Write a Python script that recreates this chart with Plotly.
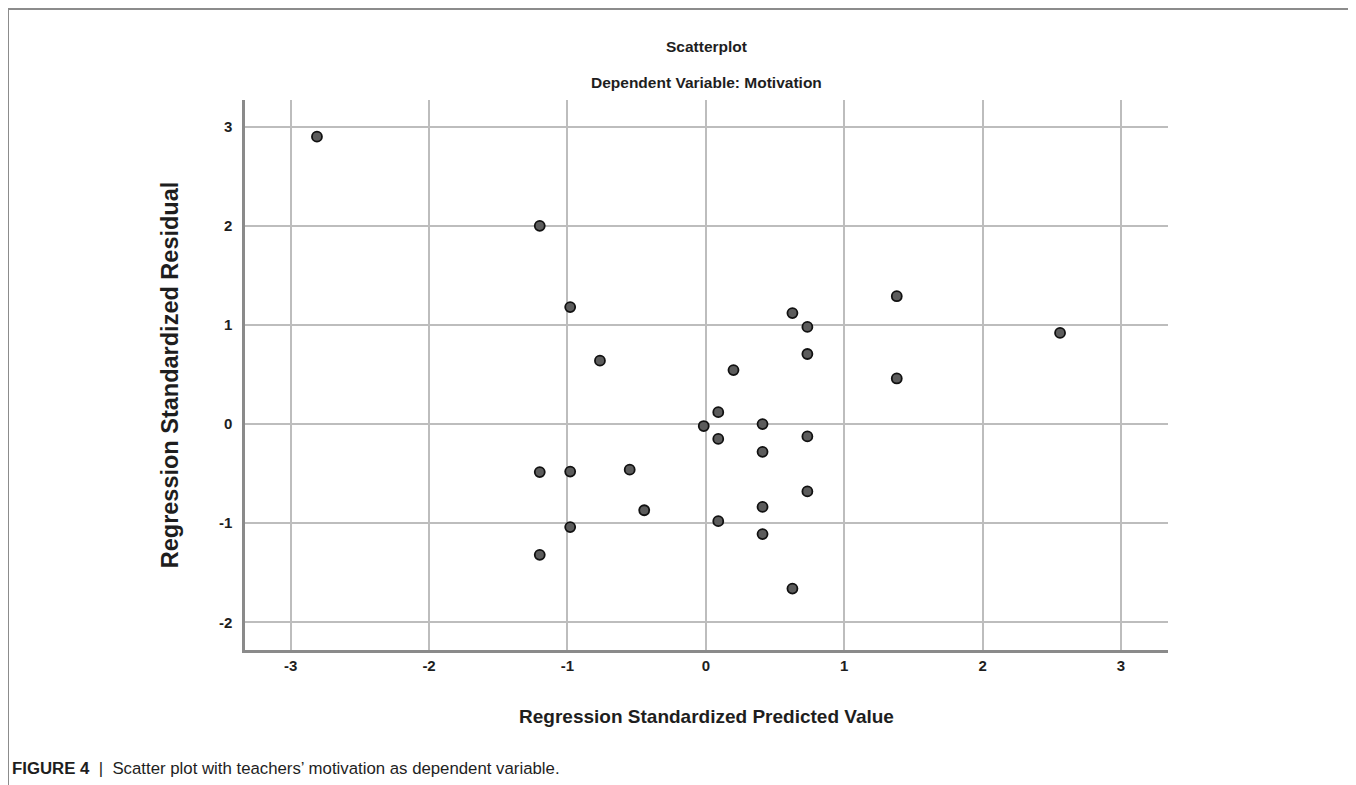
import plotly.graph_objects as go

# Data
pred = [-2.81, -1.20, -0.98, -0.765, -1.20, -0.98, -0.55, -0.445, -0.98, -1.20,
        -0.015, 0.09, 0.09, 0.09, 0.20, 0.41, 0.41, 0.41, 0.41,
        0.626, 0.734, 0.734, 0.734, 0.734, 0.626, 1.38, 1.38, 2.56]
resid = [2.90, 2.00, 1.18, 0.64, -0.485, -0.48, -0.46, -0.87, -1.04, -1.32,
         -0.02, 0.12, -0.15, -0.98, 0.545, 0.0, -0.28, -0.835, -1.11,
         1.12, 0.98, 0.707, -0.125, -0.68, -1.66, 1.29, 0.46, 0.92]

x_ticks = [-3, -2, -1, 0, 1, 2, 3]
x_tick_labels = ["-3", "-2", "-1", "0", "1", "2", "3"]
y_ticks = [-2, -1, 0, 1, 2, 3]
y_tick_labels = ["-2", "-1", "0", "1", "2", "3"]

SANS = "Liberation Sans, Arial, sans-serif"
INK = "#1e1e1e"

# page has an 8px body margin; figure pixel coords = page coords - 8
W, H = 1348, 777
L, R, T, B = 237, 1160, 92, 642   # plot area in figure pixels

fig = go.Figure()
fig.add_trace(go.Scatter(
    x=pred, y=resid, mode="markers",
    marker=dict(size=10, color="#5c5c5c", line=dict(color="#111111", width=1.8)),
    showlegend=False, hoverinfo="x+y"))

fig.update_layout(
    width=W, height=H,
    margin=dict(l=L, r=W - R, t=T, b=H - B),
    paper_bgcolor="white", plot_bgcolor="white",
    xaxis=dict(range=[-3.33, 3.34], tickvals=x_ticks, ticktext=x_tick_labels,
               showgrid=True, gridcolor="#bdbdbd", gridwidth=1.5, zeroline=False,
               showline=True, linecolor="#8a8a8a", linewidth=2.5, ticks="",
               tickfont=dict(family=SANS, size=15, color=INK, weight="bold"),
               title=dict(text="Regression Standardized Predicted Value",
                          font=dict(family=SANS, size=19, color=INK, weight="bold"),
                          standoff=37)),
    yaxis=dict(range=[-2.28, 3.27], tickvals=y_ticks, ticktext=y_tick_labels,
               showgrid=True, gridcolor="#bdbdbd", gridwidth=1.5, zeroline=False,
               showline=True, linecolor="#8a8a8a", linewidth=2.5, ticks="",
               tickfont=dict(family=SANS, size=15, color=INK, weight="bold"),
               ticklabelstandoff=7,
               title=dict(text="Regression Standardized Residual",
                          font=dict(family=SANS, size=23.5, color=INK, weight="bold"),
                          standoff=34)),
)

def px_x(px):
    return (px - L) / (R - L)

def px_y(py):
    return (B - py) / (B - T)

def add_text(text, x, y, size, xanchor="center", weight="bold"):
    fig.add_annotation(text=text, x=px_x(x), y=px_y(y), xref="paper", yref="paper",
                       xanchor=xanchor, yanchor="middle", showarrow=False,
                       font=dict(family=SANS, size=size, color=INK, weight=weight))

add_text("Scatterplot", 698, 39, 15.5)
add_text("Dependent Variable: Motivation", 698, 74, 15.5)
add_text("<b>FIGURE 4</b>  |  Scatter plot with teachers’ motivation as dependent variable.",
         2, 760, 16.8, xanchor="left", weight="normal")

# outer frame (open at the bottom)
frame = dict(type="line", xref="paper", yref="paper", line=dict(color="#8c8c8c", width=2))
fig.add_shape(**frame, x0=px_x(0), x1=px_x(1345), y0=px_y(1), y1=px_y(1))
fig.add_shape(**frame, x0=px_x(0), x1=px_x(0), y0=px_y(1), y1=px_y(H))
fig.add_shape(**frame, x0=px_x(1345), x1=px_x(1345), y0=px_y(1), y1=px_y(H))

fig.write_html("out.html")
